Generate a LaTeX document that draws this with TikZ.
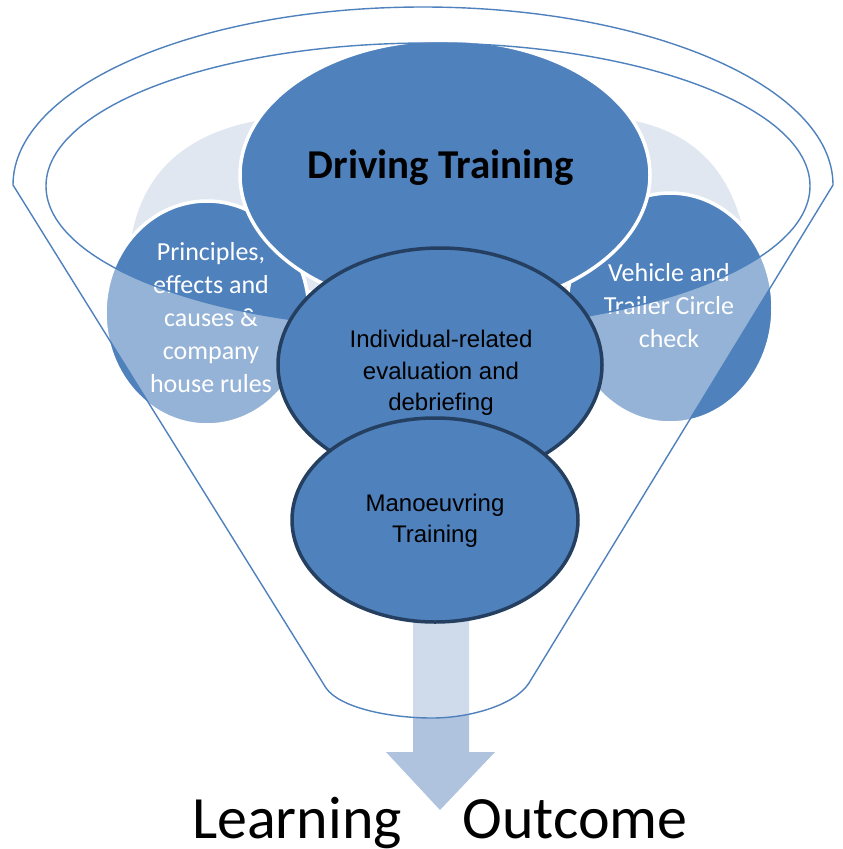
\documentclass[tikz,border=0pt]{standalone}
\usepackage{fontspec}
\setmainfont{Carlito}
\newfontfamily\arialf{Liberation Sans}
\usetikzlibrary{shapes.geometric}
\definecolor{cblue}{RGB}{79,129,189}
\definecolor{cnavy}{RGB}{36,63,96}
\definecolor{cpale}{RGB}{224,231,241}
\definecolor{carrow}{RGB}{176,195,222}
\begin{document}
\begin{tikzpicture}[x=1pt,y=-1pt,
  bubble/.style={ellipse, fill=cblue, draw=white, line width=3.5pt, inner sep=0pt, align=center},
  keybubble/.style={ellipse, fill=cblue, draw=cnavy, line width=3.5pt, inner sep=0pt},
  keytext/.style={align=center, inner sep=0pt, font={\arialf\fontsize{24}{31.5}\selectfont}},
  sidetext/.style={align=center, inner sep=0pt, text=white, font={\fontsize{26}{33}\selectfont}},
  funnelline/.style={draw=cblue, line width=1.4pt}]
\useasboundingbox (0,0) rectangle (843,849);
% pale backdrop
\fill[cpale] (128,290) .. controls (125,200) and (160,140) .. (255,121)
  -- (635,121) .. controls (700,135) and (748,180) .. (750,290) -- cycle;
% side bubbles
\node[bubble, minimum width=204pt, minimum height=224pt] (left) at (207,313) {};
\node[sidetext] (lefttext) at (211,318)
  {Principles,\\effects and\\causes \&\\company\\house rules};
\node[bubble, minimum width=206pt, minimum height=230pt] (right) at (670,308) {};
\node[sidetext] (righttext) at (669,306) {Vehicle and\\Trailer Circle\\check};
% main bubble
\node[bubble, minimum width=410pt, minimum height=270pt] (drive) at (445,175) {};
\node[inner sep=0pt, font={\bfseries\fontsize{41}{48}\selectfont}] (drivetext) at (441,168) {Driving Training};
% arrow
\fill[carrow] (413,600) -- (469,600) -- (469,752) -- (495,752) -- (440,810) -- (386,752) -- (413,752) -- cycle;
% funnel front overlay
\fill[white, fill opacity=0.4, even odd rule]
  (13,185) arc[start angle=180, end angle=0, x radius=410pt, y radius=178pt]
  -- (529,683) .. controls (515,705) and (470,718) .. (432,718)
  .. controls (390,718) and (340,708) .. (326,688) -- cycle
  (428,186) ellipse [x radius=382pt, y radius=143pt];
% funnel outlines
\draw[funnelline, line join=round]
  (13,185) arc[start angle=180, end angle=0, x radius=410pt, y radius=178pt]
  -- (529,683) .. controls (515,705) and (470,718) .. (432,718)
  .. controls (390,718) and (340,708) .. (326,688) -- cycle;
\draw[funnelline] (428,186) ellipse [x radius=382pt, y radius=143pt];
% front bubbles
\node[keybubble, minimum width=324pt, minimum height=234pt] (indiv) at (440,365) {};
\node[keytext] (indivtext) at (441,373) {Individual-related\\evaluation and\\debriefing};
\node[keybubble, minimum width=286pt, minimum height=204pt] (manoeuv) at (435,520) {};
\node[keytext] (manoeuvtext) at (435,521) {Manoeuvring\\Training};
% outcome
\node[anchor=base, font={\fontsize{60}{72}\selectfont}, inner sep=0pt] (learn) at (297,838) {Learning};
\node[anchor=base, font={\fontsize{60}{72}\selectfont}, inner sep=0pt] (outcome) at (575,838) {Outcome};
\end{tikzpicture}
\end{document}
